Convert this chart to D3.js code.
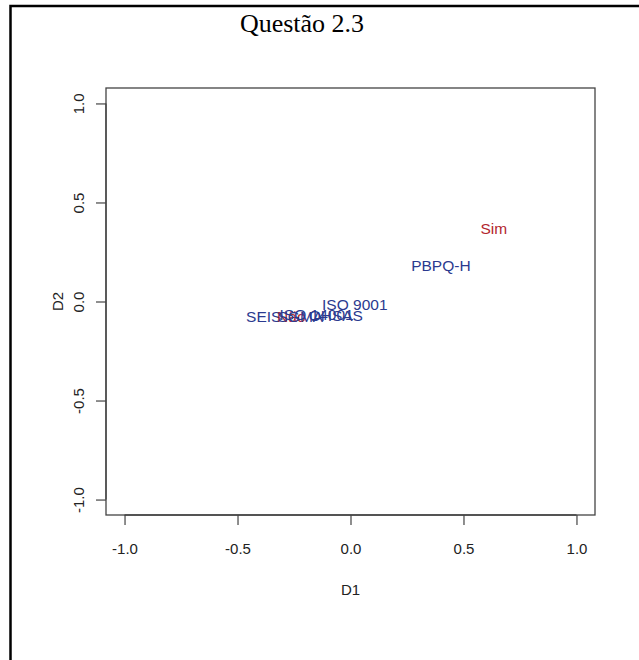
<!DOCTYPE html>
<html>
<head>
<meta charset="utf-8">
<script src="https://cdn.jsdelivr.net/npm/d3@7"></script>
<style>
html,body{margin:0;padding:0;background:#fff;}
svg{display:block;}
</style>
</head>
<body>
<svg id="chart" width="639" height="660"></svg>
<script>
// Data
const labels = ["SEIS", "Não", "SGMA", "ISO 14001", "OHSAS", "ISO 9001", "PBPQ-H", "Sim"];
const d1Values = [-0.384, -0.262, -0.222, -0.150, -0.065, 0.019, 0.400, 0.634];
const d2Values = [-0.073, -0.075, -0.073, -0.066, -0.068, -0.013, 0.184, 0.371];
const groups = ["blue", "red", "blue", "blue", "blue", "blue", "blue", "red"];
const xTicks = [-1.0, -0.5, 0.0, 0.5, 1.0];
const yTicks = [-1.0, -0.5, 0.0, 0.5, 1.0];
const title = "Questão 2.3";

const svg = d3.select("#chart");
const colors = {blue: "#2b3a8f", red: "#b3262e"};
const fmt = d => d3.format(".1f")(d).replace("−", "-");

// outer frame (extends beyond the right/bottom edge)
svg.append("rect").attr("x", 10.5).attr("y", 6).attr("width", 700).attr("height", 700)
  .attr("fill", "none").attr("stroke", "#000").attr("stroke-width", 2.5);

const box = {left: 106, right: 595, top: 88, bottom: 515};
const x = d3.scaleLinear().domain([-1.082, 1.082]).range([box.left, box.right]);
const y = d3.scaleLinear().domain([-1.078, 1.078]).range([box.bottom, box.top]);

// title
svg.append("text").attr("x", 302).attr("y", 32).attr("text-anchor", "middle")
  .attr("font-family", "'Liberation Serif', 'Times New Roman', serif").attr("font-size", 26)
  .attr("fill", "#000").text(title);

// plot box
svg.append("rect").attr("x", box.left).attr("y", box.top)
  .attr("width", box.right - box.left).attr("height", box.bottom - box.top)
  .attr("fill", "none").attr("stroke", "#444").attr("stroke-width", 1.3);

// x axis
const xAxis = d3.axisBottom(x).tickValues(xTicks).tickFormat(fmt).tickSize(10).tickPadding(18);
const gx = svg.append("g").attr("transform", `translate(0,${box.bottom})`).call(xAxis);
gx.select(".domain").attr("d", `M${x(-1)},0H${x(1)}`).attr("stroke", "#444").attr("stroke-width", 1.3);
gx.selectAll(".tick line").attr("stroke", "#444").attr("stroke-width", 1.2);
gx.selectAll(".tick text").attr("font-family", "'Liberation Sans', Arial, sans-serif")
  .attr("font-size", 15).attr("fill", "#222");

// y axis
const yAxis = d3.axisLeft(y).tickValues(yTicks).tickFormat(fmt).tickSize(10).tickPadding(0);
const gy = svg.append("g").attr("transform", `translate(${box.left},0)`).call(yAxis);
gy.select(".domain").attr("d", `M0,${y(-1)}V${y(1)}`).attr("stroke", "#444").attr("stroke-width", 1.3);
gy.selectAll(".tick line").attr("stroke", "#444").attr("stroke-width", 1.2);
gy.selectAll(".tick text")
  .attr("x", null).attr("dy", null)
  .attr("transform", "translate(-22,0) rotate(-90)")
  .attr("text-anchor", "middle")
  .attr("font-family", "'Liberation Sans', Arial, sans-serif")
  .attr("font-size", 15).attr("fill", "#222");

// axis titles
svg.append("text").attr("x", x(0)).attr("y", 595).attr("text-anchor", "middle")
  .attr("font-family", "'Liberation Sans', Arial, sans-serif").attr("font-size", 15)
  .attr("fill", "#222").text("D1");
svg.append("text").attr("transform", `translate(63,${y(0)}) rotate(-90)`).attr("text-anchor", "middle")
  .attr("font-family", "'Liberation Sans', Arial, sans-serif").attr("font-size", 15)
  .attr("fill", "#222").text("D2");

// point labels (overlapping in the original plot)
svg.append("g").selectAll("text").data(labels).join("text")
  .attr("x", (d, i) => x(d1Values[i]))
  .attr("y", (d, i) => y(d2Values[i]))
  .attr("dy", "0.36em")
  .attr("text-anchor", "middle")
  .attr("font-family", "'Liberation Sans', Arial, sans-serif")
  .attr("font-size", 15.5)
  .attr("fill", (d, i) => colors[groups[i]])
  .text(d => d);
</script>
</body>
</html>
